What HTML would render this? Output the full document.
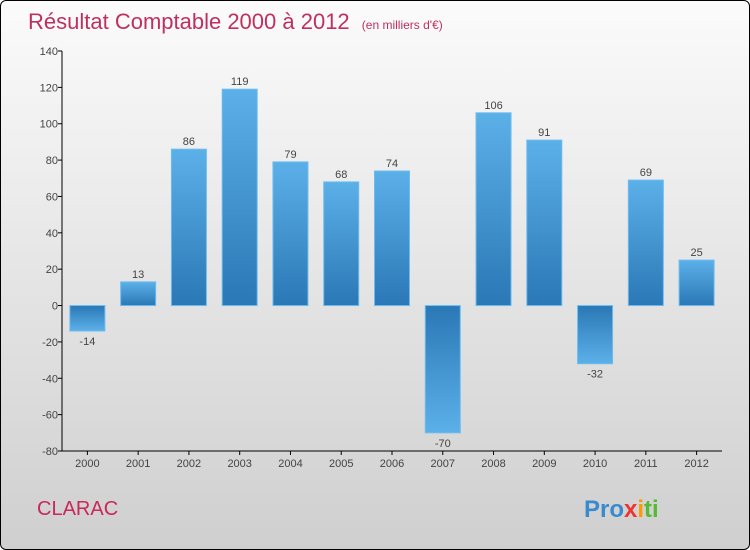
<!DOCTYPE html>
<html><head><meta charset="utf-8"><style>
html,body{margin:0;padding:0;}
body{width:750px;height:550px;overflow:hidden;font-family:"Liberation Sans",sans-serif;}
#frame{position:absolute;left:0;top:0;width:748px;height:548px;border:1px solid #000;border-radius:6px;background:linear-gradient(#fbfbfb,#cfcfcf);overflow:hidden;}
</style></head><body>
<div id="frame">
<svg width="750" height="550" style="position:absolute;left:0;top:0">
<defs>
<linearGradient id="gp" x1="0" y1="0" x2="0" y2="1"><stop offset="0" stop-color="#5cb0e8"/><stop offset="1" stop-color="#2a78b6"/></linearGradient>
<linearGradient id="gn" x1="0" y1="0" x2="0" y2="1"><stop offset="0" stop-color="#2a78b6"/><stop offset="1" stop-color="#5cb0e8"/></linearGradient>
</defs>
<text x="27" y="28" font-size="22" fill="#c0305f">Résultat Comptable 2000 à 2012 <tspan font-size="12" dx="6">(en milliers d'€)</tspan></text>
<g id="axes"></g>
<g id="bars"></g>
<text x="36" y="514" font-size="20" fill="#c8285a">CLARAC</text>
<text x="583" y="516" font-size="24" font-weight="bold"><tspan fill="#3a8ad0">Pro</tspan><tspan fill="#e33">x</tspan><tspan fill="#f90">i</tspan><tspan fill="#5b3">ti</tspan></text>
</svg></div>
<script>
const categories=["2000","2001","2002","2003","2004","2005","2006","2007","2008","2009","2010","2011","2012"];
const values=[-14,13,86,119,79,68,74,-70,106,91,-32,69,25];
const yTicks=[140,120,100,80,60,40,20,0,-20,-40,-60,-80];
const NS="http://www.w3.org/2000/svg";
const x0=61,x1=721,yTop=50,yBot=450,vMax=140,vMin=-80;
const band=(x1-x0)/categories.length,bw=35;
const y=v=>yTop+(vMax-v)*(yBot-yTop)/(vMax-vMin);
const xc=i=>x0+band*(i+0.5);
function mk(t,a,p){const e=document.createElementNS(NS,t);for(const k in a)e.setAttribute(k,a[k]);p.appendChild(e);return e;}
const ax=document.getElementById('axes'),bg=document.getElementById('bars');
let l=mk('line',{x1:x0,y1:yTop,x2:x0,y2:yBot,stroke:'#000'},ax);


l=mk('line',{x1:x0,y1:yBot,x2:x1,y2:yBot,stroke:'#000'},ax);


yTicks.forEach(v=>{
 mk('line',{x1:x0-4,y1:y(v),x2:x0,y2:y(v),stroke:'#000'},ax);
 const t=mk('text',{x:x0-4,y:y(v)+4,'font-size':11,'text-anchor':'end',fill:'#444'},ax);
 t.textContent=v;
 
 
});
categories.forEach((c,i)=>{
 mk('line',{x1:xc(i),y1:yBot,x2:xc(i),y2:yBot+4,stroke:'#000'},ax);
 const t=mk('text',{x:xc(i),y:yBot+16,'font-size':11,'text-anchor':'middle',fill:'#444'},ax);
 t.textContent=c;
 
 
 const v=values[i],top=Math.min(y(v),y(0)),h=Math.abs(y(v)-y(0));
 const r=mk('rect',{x:xc(i)-bw/2,y:top,width:bw,height:h,fill:v>=0?'url(#gp)':'url(#gn)',stroke:'#6cbcf0','stroke-width':1},bg);
 
 
 const lt=mk('text',{x:xc(i),y:v>=0?y(v)-4:y(v)+14,'font-size':11,'text-anchor':'middle',fill:'#444'},bg);
 lt.textContent=v;
 
 
});
</script>
</body></html>
